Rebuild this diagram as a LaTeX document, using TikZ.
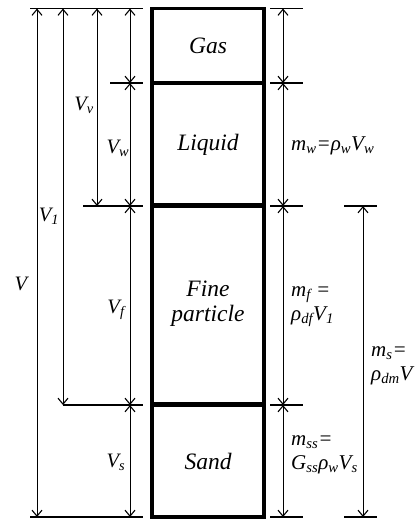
\documentclass[tikz,border=0pt]{standalone}
\usepackage{fontspec}
\setmainfont{Liberation Serif}
\usetikzlibrary{arrows.meta}
\tikzset{
  barb/.tip={Straight Barb[length=6pt,width=10pt,line width=1.1pt]},
  dim/.style={line width=1pt, barb-barb},
  ext/.style={line width=1.2pt},
  phase/.style={draw, line width=3.5pt, minimum width=112pt, inner sep=0pt,
    align=center, font=\fontsize{23.5}{25}\selectfont\itshape},
  vlab/.style={inner sep=0pt, font=\fontsize{20.5}{24}\selectfont\itshape},
  mlab/.style={inner sep=0pt, anchor=west, align=left, font=\fontsize{21}{24}\selectfont\itshape},
}
\begin{document}
\begin{tikzpicture}[x=1pt,y=-1pt]
\useasboundingbox (0,0) rectangle (419,523);
% levels
\coordinate (y0) at (0,8.5);
\coordinate (y1) at (0,83);
\coordinate (y2) at (0,206);
\coordinate (y3) at (0,405);
\coordinate (y4) at (0,517);
% columns
\coordinate (xV) at (37,0);
\coordinate (xA) at (63,0);
\coordinate (xB) at (97,0);
\coordinate (xC) at (130,0);
\coordinate (xR) at (283,0);
\coordinate (xS) at (363,0);
% phase column
\node[phase, minimum height=74.5pt] (gas) at (208,45.75) {Gas};
\node[phase, minimum height=123pt] (liquid) at (208,144.5) {Liquid};
\node[phase, minimum height=199pt] (fine) at (208,304) {Fine\\particle};
\node[phase, minimum height=112pt] (sand) at (208,461) {Sand};
% left extension lines
\coordinate (l0a) at (30,8.5);  \coordinate (l0b) at (143,8.5);
\coordinate (l1a) at (110,83);  \coordinate (l1b) at (143,83);
\coordinate (l2a) at (83,206);  \coordinate (l2b) at (143,206);
\coordinate (l3a) at (63,405);  \coordinate (l3b) at (143,405);
\coordinate (l4a) at (30,517);  \coordinate (l4b) at (143,517);
\foreach \i in {0,...,4} {\draw[ext] (l\i a) -- (l\i b);}
% right extension lines
\foreach \i/\yy in {0/8.5,1/83,2/206,3/405,4/517} {
  \coordinate (r\i a) at (270,\yy); \coordinate (r\i b) at (303,\yy);
  \draw[ext] (r\i a) -- (r\i b);}
\coordinate (s2a) at (344,206); \coordinate (s2b) at (377,206);
\coordinate (s4a) at (344,517); \coordinate (s4b) at (377,517);
\draw[ext] (s2a) -- (s2b);
\draw[ext] (s4a) -- (s4b);
% left dimension arrows
\draw[dim] (xV |- y0) -- (xV |- y4);
\draw[dim] (xA |- y0) -- (xA |- y3);
\draw[dim] (xB |- y0) -- (xB |- y2);
\draw[dim] (xC |- y0) -- (xC |- y1);
\draw[dim] (xC |- y1) -- (xC |- y2);
\draw[dim] (xC |- y2) -- (xC |- y3);
\draw[dim] (xC |- y3) -- (xC |- y4);
% right dimension arrows
\draw[dim] (xR |- y0) -- (xR |- y1);
\draw[dim] (xR |- y1) -- (xR |- y2);
\draw[dim] (xR |- y2) -- (xR |- y3);
\draw[dim] (xR |- y3) -- (xR |- y4);
\draw[dim] (xS |- y2) -- (xS |- y4);
% left labels
\node[vlab] (lV) at (21,284) {V};
\node[vlab] (lV1) at (49,216) {V\textsubscript{1}};
\node[vlab] (lVv) at (84,105) {V\textsubscript{v}};
\node[vlab] (lVw) at (118,148) {V\textsubscript{w}};
\node[vlab] (lVf) at (116,310) {V\textsubscript{f}};
\node[vlab] (lVs) at (116,462) {V\textsubscript{s}};
% right labels
\node[mlab] (mw) at (291,146) {m\textsubscript{w}=ρ\textsubscript{w}V\textsubscript{w}};
\node[mlab] (mf) at (291,307) {m\textsubscript{f} =\\ρ\textsubscript{df}V\textsubscript{1}};
\node[mlab] (ms) at (371,366) {m\textsubscript{s}=\\ρ\textsubscript{dm}V};
\node[mlab] (mss) at (291,455) {m\textsubscript{ss}=\\G\textsubscript{ss}ρ\textsubscript{w}V\textsubscript{s}};
\end{tikzpicture}
\end{document}
